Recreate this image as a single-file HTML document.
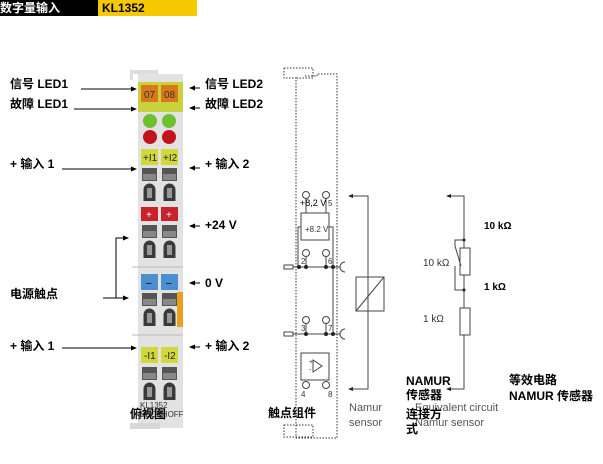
<!DOCTYPE html>
<html><head><meta charset="utf-8"><style>
body{margin:0;background:#fff;width:603px;height:459px;overflow:hidden}
svg text{font-family:"Liberation Sans","Noto Sans CJK SC",sans-serif}
.b{font-weight:bold;font-size:12px;fill:#000}
.g{font-size:11px;fill:#555}
</style></head><body>
<svg width="603" height="459" viewBox="0 0 603 459" xmlns="http://www.w3.org/2000/svg">
<defs>
<marker id="a" markerWidth="6" markerHeight="6" refX="5" refY="3" orient="auto"><path d="M0,0.5 L6,3 L0,5.5Z" fill="#000"/></marker>
<g id="slot"><rect x="0" y="0" width="15" height="13" fill="#555"/><rect x="1" y="6" width="13" height="6" fill="#888"/><path d="M1.5,33 v-11 a6,6.5 0 0 1 12,0 v11z" fill="#3a3a3a"/><rect x="5" y="20" width="5" height="10" fill="#999"/></g>
</defs>
<rect x="0" y="0" width="98" height="16" fill="#000"/>
<text x="0" y="12" class="b" style="fill:#fff">数字量输入</text>
<rect x="98" y="0" width="99" height="16" fill="#f5c800"/>
<text x="102" y="12" class="b">KL1352</text>

<!-- module -->
<rect x="130" y="70" width="28" height="4" fill="#ddd"/>
<rect x="130" y="70" width="3" height="10" fill="#ddd"/>
<rect x="138" y="74" width="45" height="354" fill="#e2e2e2"/>
<rect x="130" y="423" width="30" height="6" fill="#d8d8d8"/>
<rect x="138" y="82" width="45" height="30" fill="#c8d23c"/>
<rect x="141" y="85" width="17" height="17" fill="#d9791a"/><text x="144" y="98" font-size="10" fill="#333">07</text>
<rect x="161" y="85" width="17" height="17" fill="#d9791a"/><text x="164" y="98" font-size="10" fill="#333">08</text>
<circle cx="150" cy="121" r="7" fill="#6fc02e"/><circle cx="169" cy="121" r="7" fill="#6fc02e"/>
<circle cx="150" cy="137" r="7" fill="#c0141c"/><circle cx="169" cy="137" r="7" fill="#c0141c"/>
<rect x="141" y="149" width="17" height="16" fill="#d2d83a"/><text x="143" y="161" font-size="10" fill="#222">+I1</text>
<rect x="161" y="149" width="17" height="16" fill="#d2d83a"/><text x="163" y="161" font-size="10" fill="#222">+I2</text>
<use href="#slot" x="142" y="168"/><use href="#slot" x="162" y="168"/>
<rect x="141" y="207" width="17" height="14" fill="#c8222c"/><text x="146" y="218" font-size="10" fill="#fff">+</text>
<rect x="161" y="207" width="17" height="14" fill="#c8222c"/><text x="166" y="218" font-size="10" fill="#fff">+</text>
<use href="#slot" x="142" y="225"/><use href="#slot" x="162" y="225"/>
<line x1="132" y1="267" x2="183" y2="267" stroke="#bbb"/>
<rect x="141" y="274" width="17" height="16" fill="#4a90d0"/><text x="146" y="286" font-size="10">–</text>
<rect x="161" y="274" width="17" height="16" fill="#4a90d0"/><text x="166" y="286" font-size="10">–</text>
<use href="#slot" x="142" y="293"/><use href="#slot" x="162" y="293"/>
<rect x="177" y="292" width="6" height="35" fill="#e8a020"/>
<line x1="132" y1="335" x2="183" y2="335" stroke="#bbb"/>
<rect x="141" y="347" width="17" height="16" fill="#d2d83a"/><text x="144" y="359" font-size="10" fill="#222">-I1</text>
<rect x="161" y="347" width="17" height="16" fill="#d2d83a"/><text x="164" y="359" font-size="10" fill="#222">-I2</text>
<use href="#slot" x="142" y="367"/><use href="#slot" x="162" y="367"/>
<text x="140" y="408" font-size="8" fill="#333">KL1352</text>
<text x="140" y="417" font-size="8" fill="#333">BECKHOFF</text>

<!-- left labels -->
<text x="10" y="88" class="b">信号 LED1</text>
<text x="10" y="108" class="b">故障 LED1</text>
<text x="205" y="88" class="b">信号 LED2</text>
<text x="205" y="108" class="b">故障 LED2</text>
<text x="10" y="168" class="b">+ 输入 1</text>
<text x="205" y="168" class="b">+ 输入 2</text>
<text x="205" y="229" class="b">+24 V</text>
<text x="205" y="287" class="b">0 V</text>
<text x="10" y="298" class="b">电源触点</text>
<text x="10" y="350" class="b">+ 输入 1</text>
<text x="205" y="350" class="b">+ 输入 2</text>
<text x="130" y="418" class="b">俯视图</text>
<g stroke="#000" stroke-width="1" fill="none" marker-end="url(#a)">
<line x1="81" y1="89" x2="136" y2="89"/>
<line x1="74" y1="109" x2="136" y2="109"/>
<line x1="200" y1="88" x2="190" y2="88"/>
<line x1="200" y1="108" x2="190" y2="108"/>
<line x1="62" y1="169" x2="136" y2="169"/>
<line x1="200" y1="168" x2="190" y2="168"/>
<line x1="200" y1="226" x2="190" y2="226"/>
<line x1="200" y1="283" x2="190" y2="283"/>
<path d="M103,298 h13 v-60 h12"/>
<line x1="103" y1="298" x2="128" y2="298"/>
<line x1="62" y1="348" x2="136" y2="348"/>
<line x1="200" y1="347" x2="190" y2="347"/>
</g>

<!-- dashed outline -->
<g stroke="#333" stroke-dasharray="1.5,1.5" fill="none" stroke-width="1">
<path d="M284,68 h29 v10 h-17"/><path d="M284,68 v10 h12 v360"/>
<path d="M305,76 h12 v-2 h20 v364 h-41"/>
<path d="M284,425 h29 v12 h-29z"/>
</g>
<!-- circuit -->
<g stroke="#444" fill="none" stroke-width="1">
<circle cx="306" cy="195" r="3.5"/><circle cx="326" cy="195" r="3.5"/>
<line x1="306" y1="199" x2="306" y2="213"/><line x1="326" y1="199" x2="326" y2="213"/>
<rect x="301" y="213" width="28" height="27"/>
<path d="M301,227 h-3 v40"/><path d="M329,227 h4 v107"/>
<rect x="284" y="265" width="9" height="4"/><rect x="284" y="332" width="9" height="4"/>
<line x1="293" y1="267" x2="340" y2="267"/><line x1="293" y1="334" x2="340" y2="334"/>
<circle cx="306" cy="253" r="3.5"/><circle cx="326" cy="253" r="3.5"/>
<line x1="306" y1="257" x2="306" y2="267"/><line x1="326" y1="257" x2="326" y2="267"/>
<circle cx="306" cy="320" r="3.5"/><circle cx="326" cy="320" r="3.5"/>
<line x1="306" y1="324" x2="306" y2="334"/><line x1="326" y1="324" x2="326" y2="334"/>
<path d="M345,262 a5,5 0 0 0 0,10"/><path d="M345,329 a5,5 0 0 0 0,10"/>
<rect x="301" y="353" width="28" height="27"/>
<path d="M313,360 v12 l9,-6z"/>
<circle cx="306" cy="385" r="3.5"/><circle cx="326" cy="385" r="3.5"/>
<path d="M350,196 h18 v193 h-18"/>
<rect x="356" y="277" width="28" height="34"/>
<line x1="356" y1="311" x2="384" y2="277"/>
<path d="M448,196 h16 v193 h-16"/>
<rect x="460" y="248" width="10" height="27" fill="#fff"/>
<rect x="460" y="308" width="10" height="27" fill="#fff"/>
<path d="M464,240 h-9 v6 l6,20"/><path d="M455,266 v24 h9"/>
</g>
<g fill="#222">
<circle cx="299" cy="267" r="2"/><circle cx="306" cy="267" r="2"/><circle cx="326" cy="267" r="2"/><circle cx="333" cy="267" r="2"/>
<circle cx="306" cy="334" r="2"/><circle cx="326" cy="334" r="2"/><circle cx="333" cy="334" r="2"/>
<circle cx="464" cy="240" r="1.5"/><circle cx="464" cy="290" r="1.5"/>
<path d="M348,196 l5,-2 v4z"/><path d="M348,389 l5,-2 v4z"/><path d="M446,196 l5,-2 v4z"/><path d="M446,389 l5,-2 v4z"/>
</g>
<g font-size="8" fill="#333">
<text x="300" y="206" font-size="9" fill="#000">+8,2 V</text><text x="328" y="206">5</text>
<text x="305" y="232" font-size="8">+8.2 V</text>
<text x="301" y="264">2</text><text x="328" y="264">6</text>
<text x="301" y="331">3</text><text x="328" y="331">7</text>
<text x="301" y="397">4</text><text x="328" y="397">8</text>
<text x="309" y="364" font-size="7">+</text><text x="309" y="372" font-size="7">-</text>
</g>
<text x="484" y="229" font-size="10" font-weight="bold">10 kΩ</text>
<text x="423" y="266" font-size="10" fill="#333">10 kΩ</text>
<text x="484" y="290" font-size="10" font-weight="bold">1 kΩ</text>
<text x="423" y="322" font-size="10" fill="#333">1 kΩ</text>
<text x="349" y="411" class="g">Namur</text><text x="349" y="426" class="g">sensor</text>
<text x="415" y="411" class="g">Equivalent circuit</text><text x="415" y="426" class="g">Namur sensor</text>
<text x="406" y="385" class="b">NAMUR</text><text x="406" y="399" class="b">传感器</text>
<text x="406" y="418" class="b">连接方</text><text x="406" y="433" class="b">式</text>
<text x="509" y="384" class="b">等效电路</text><text x="509" y="400" class="b">NAMUR 传感器</text>
<text x="268" y="417" class="b">触点组件</text>
</svg>
</body></html>
